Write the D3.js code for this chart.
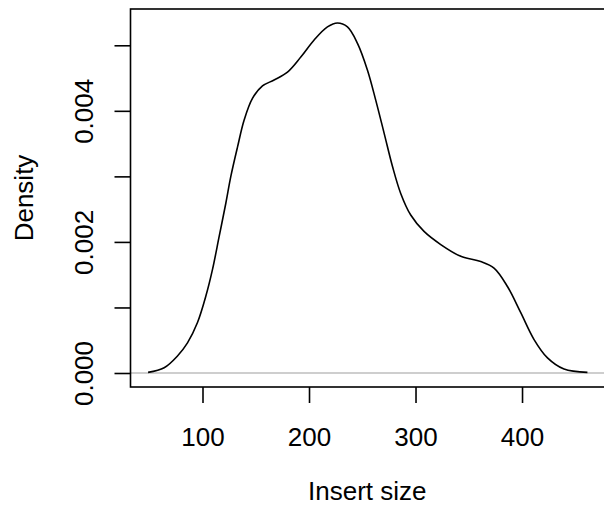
<!DOCTYPE html>
<html>
<head>
<meta charset="utf-8">
<script src="https://cdn.jsdelivr.net/npm/d3@7"></script>
<style>
  body { margin: 0; background: #fff; }
  svg { display: block; font-family: "Liberation Sans", Arial, Helvetica, sans-serif; }
</style>
</head>
<body>
<svg id="drawing_region"></svg>
<script>
// kernel density of insert sizes
const insertSize = [48.9, 64, 76.5, 85.9, 95.3, 103.1, 109.4, 115.6, 121.9, 126.6, 132.9, 139.1,
    146.9, 156.3, 167.2, 179.8, 192.3, 204.8, 217.3, 226.7, 236.1, 245.5, 254.9, 262.7, 270.5,
    278.4, 286.1, 295.5, 308, 323.7, 342.5, 361.2, 373.7, 386.3, 398.8, 411.3, 423.9, 439.4, 461.4];
const density = [0.00001, 0.00008, 0.00026, 0.00046, 0.00077, 0.00117, 0.00158, 0.00208, 0.00259,
    0.00300, 0.00345, 0.00386, 0.00419, 0.00438, 0.00447, 0.00459, 0.00482, 0.00508, 0.00528,
    0.00534, 0.00528, 0.00503, 0.00462, 0.00416, 0.00366, 0.00315, 0.00274, 0.00241, 0.00216,
    0.00196, 0.00178, 0.00170, 0.00160, 0.00132, 0.00092, 0.00051, 0.00023, 0.00006, 0.00001];
const xTicks = [100, 200, 300, 400];
const yTicks = [0, 0.001, 0.002, 0.003, 0.004, 0.005];
const yLabels = ['0.000', '', '0.002', '', '0.004', ''];
const xTitle = 'Insert size';
const yTitle = 'Density';

const config = {
    width: 604,
    height: 511,
    margin: {top: 9, right: -1, bottom: 124, left: 130.5}
};

const data = insertSize.map((x, i) => ({x: x, y: density[i]}));

const svg = d3.select('#drawing_region')
    .attr('width', config.width)
    .attr('height', config.height);

const inner_width = config.width - config.margin.left - config.margin.right;
const inner_height = config.height - config.margin.top - config.margin.bottom;

// R style: 4% padding on each side of the data range
const xmin = d3.min(insertSize), xmax = d3.max(insertSize);
const xpad = (xmax - xmin) * 0.04;
const ymax = d3.max(density);
const ypad = ymax * 0.04;

const xscale = d3.scaleLinear()
    .domain([xmin - xpad, xmax + xpad])
    .range([0, inner_width]);

const yscale = d3.scaleLinear()
    .domain([-ypad, ymax + ypad])
    .range([inner_height, 0]);

const chart = svg.append('g')
    .attr('transform', `translate(${config.margin.left}, ${config.margin.top})`);

// grey zero line
chart.append('line')
    .attr('x1', 0).attr('x2', inner_width)
    .attr('y1', yscale(0)).attr('y2', yscale(0))
    .attr('stroke', '#bebebe')
    .attr('stroke-width', 1.4);

const line = d3.line()
    .x(d => xscale(d.x))
    .y(d => yscale(d.y))
    .curve(d3.curveCatmullRom.alpha(0.5));

chart.append('path')
    .attr('d', line(data))
    .attr('stroke', 'black')
    .attr('stroke-width', 1.6)
    .attr('fill', 'none');

// box
chart.append('rect')
    .attr('x', 0).attr('y', 0)
    .attr('width', inner_width).attr('height', inner_height)
    .attr('fill', 'none')
    .attr('stroke', 'black')
    .attr('stroke-width', 1.6);

const xaxis = d3.axisBottom(xscale)
    .tickValues(xTicks)
    .tickSize(16)
    .tickFormat(d3.format('d'));

const yaxis = d3.axisLeft(yscale)
    .tickValues(yTicks)
    .tickSize(16)
    .tickFormat((d, i) => yLabels[i]);

const xaxis_group = chart.append('g')
    .attr('transform', `translate(0, ${inner_height})`)
    .call(xaxis);

const yaxis_group = chart.append('g')
    .call(yaxis);

[xaxis_group, yaxis_group].forEach(g => {
    g.select('.domain').remove();
    g.selectAll('.tick line').attr('stroke', 'black').attr('stroke-width', 1.6);
    g.selectAll('.tick text')
        .attr('fill', 'black')
        .style('font-size', '26px')
        .style('font-family', '"Liberation Sans", Arial, sans-serif');
});

xaxis_group.selectAll('.tick text')
    .attr('dy', null)
    .attr('y', 59);

yaxis_group.selectAll('.tick text')
    .attr('x', null)
    .attr('dy', null)
    .attr('text-anchor', 'middle')
    .attr('transform', 'translate(-38, 0) rotate(-90)');

svg.append('text')
    .attr('x', config.margin.left + inner_width / 2 - 0.5)
    .attr('y', 500)
    .attr('text-anchor', 'middle')
    .style('font-size', '26px')
    .text(xTitle);

svg.append('text')
    .attr('transform', `translate(33, ${config.margin.top + inner_height / 2}) rotate(-90)`)
    .attr('text-anchor', 'middle')
    .style('font-size', '26px')
    .text(yTitle);
</script>
</body>
</html>
